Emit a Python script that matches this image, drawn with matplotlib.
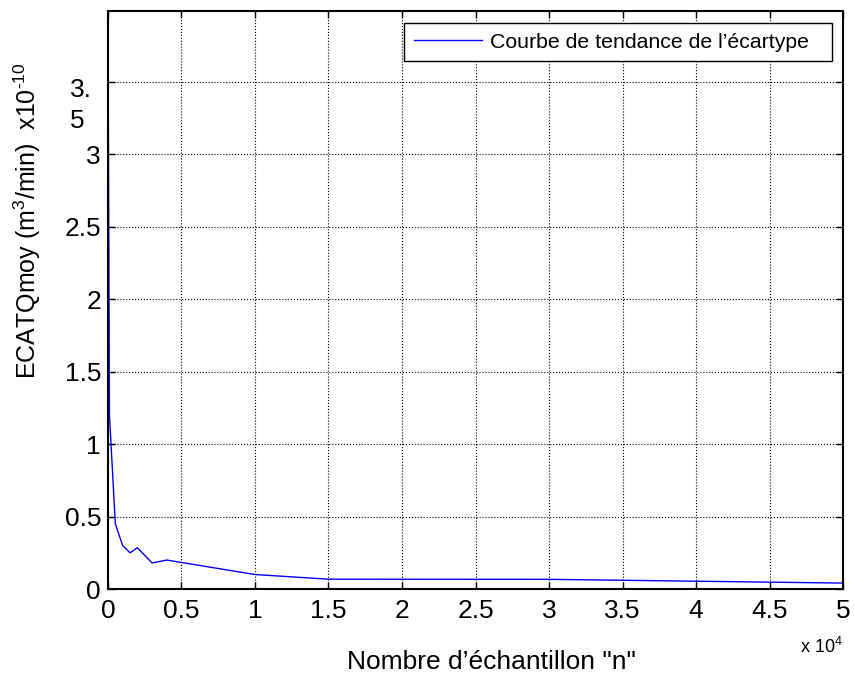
import numpy as np
import matplotlib
matplotlib.use("Agg")
from matplotlib import pyplot as plt

plt.rcParams['font.family'] = ['Liberation Sans', 'DejaVu Sans']
plt.rcParams['mathtext.fontset'] = 'custom'
plt.rcParams['mathtext.rm'] = 'Liberation Sans'
plt.rcParams['mathtext.it'] = 'Liberation Sans:italic'

# sample sizes and standard deviation trend (m3/min)
n_samples = [1, 100, 500, 1000, 1500, 2000, 3000, 4000, 10000, 15000, 30000, 50000]
ecart = [3.84e-10, 1.2e-10, 0.45e-10, 0.30e-10, 0.25e-10, 0.285e-10, 0.18e-10,
         0.20e-10, 0.10e-10, 0.068e-10, 0.067e-10, 0.041e-10]

x_ticks = np.arange(0, 5.01e4, 0.5e4)
y_ticks = np.arange(0, 3.51e-10, 0.5e-10)
x_ticklabels = ['0', '0.5', '1', '1.5', '2', '2.5', '3', '3.5', '4', '4.5', '5']
y_ticklabels = ['0', '0.5', '1', '1.5', '2', '2.5', '3', '']

fig = plt.figure(figsize=(8.55, 6.79), dpi=100)
ax = fig.add_axes([0.1263, 0.1325, 0.8597, 0.8513])

ax.plot(n_samples, ecart, color='#0000ff', linewidth=1,
        label="Courbe de tendance de l\u2019écartype")

ax.set_xlim(0, 5e4)
ax.set_ylim(0, 3.99e-10)
ax.set_xticks(x_ticks)
ax.set_xticklabels(x_ticklabels)
ax.set_yticks(y_ticks)
ax.set_yticklabels(y_ticklabels)
ax.tick_params(direction='in', top=True, right=True, labelsize=19, length=5,
               width=1)
ax.tick_params(axis='x', pad=7)
ax.tick_params(axis='y', pad=5)

# wrapped 3.5 label as in the original
ax.text(-0.052, 3.53e-10, '3.\n5', transform=ax.get_yaxis_transform(),
        ha='left', va='top', fontsize=19, linespacing=1.4)

ax.grid(True, color='black', linestyle=':', linewidth=0.8)
for s in ax.spines.values():
    s.set_linewidth(1.5)

ax.set_xlabel("Nombre d\u2019échantillon \"n\"", fontsize=19)
ax.xaxis.set_label_coords(0.522, -0.105)
ax.set_ylabel(r"ECATQmoy (m$^3$/min)  x10$^{\text{-10}}$", fontsize=18)
ax.yaxis.set_label_coords(-0.088, 0.638)

fig.text(0.986, 0.032, "x 10$^4$", ha='right', va='bottom', fontsize=13)

leg = ax.legend(loc='upper left', fontsize=15.3, fancybox=False, framealpha=1,
                edgecolor='black', handlelength=3.2, handletextpad=0.4,
                borderpad=0.45, borderaxespad=0, mode='expand',
                bbox_to_anchor=(0.4027, 0.8, 0.5823, 0.179))
leg.get_frame().set_linewidth(1)

fig.savefig('out.png', dpi=100)
